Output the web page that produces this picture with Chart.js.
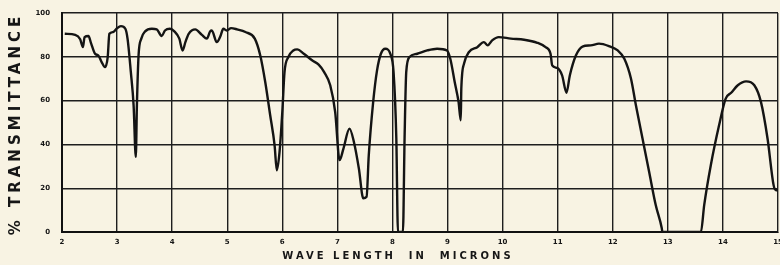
<!DOCTYPE html>
<html>
<head>
<meta charset="utf-8">
<script src="https://cdn.jsdelivr.net/npm/chart.js@4"></script>
<style>
  html, body { margin: 0; padding: 0; background: #f8f3e3; }
  #wrap { width: 780px; height: 265px; }
</style>
</head>
<body>
<div id="wrap"><canvas id="myChart" width="780" height="265"></canvas></div>
<script>
// wavelength in microns
var wavelength = [2.05, 2.24, 2.33, 2.38, 2.41, 2.48, 2.53, 2.60, 2.66, 2.72, 2.78, 2.83, 2.86, 2.93, 2.99,
    3.07, 3.15, 3.19, 3.25, 3.30, 3.34, 3.36, 3.39, 3.44, 3.51, 3.63, 3.72, 3.81, 3.87, 3.96,
    4.04, 4.13, 4.19, 4.24, 4.30, 4.42, 4.54, 4.63, 4.69, 4.72, 4.81, 4.87, 4.93, 4.99,
    5.07, 5.18, 5.33, 5.50, 5.60, 5.69, 5.78, 5.86, 5.90, 5.95,
    6.00, 6.04, 6.11, 6.20, 6.27, 6.39, 6.54, 6.66, 6.76, 6.87, 6.96,
    7.04, 7.11, 7.22, 7.30, 7.39, 7.47, 7.53, 7.57, 7.65, 7.72, 7.79, 7.87, 7.96,
    8.02, 8.07, 8.10, 8.19, 8.22, 8.25, 8.31, 8.45, 8.63, 8.81, 8.99,
    9.05, 9.13, 9.20, 9.24, 9.25, 9.30, 9.39, 9.54, 9.66, 9.73, 9.81, 9.93,
    10.15, 10.39, 10.63, 10.78, 10.87, 10.90, 10.99,
    11.08, 11.16, 11.22, 11.33, 11.45, 11.60, 11.75, 11.93,
    12.09, 12.21, 12.33, 12.42, 12.54, 12.66, 12.78, 12.89, 12.90,
    13.60, 13.66, 13.78, 13.93,
    14.05, 14.15, 14.27, 14.42, 14.57, 14.69, 14.81, 14.92, 14.96, 15.00];

// % transmittance at each wavelength
var transmittance = [90.5, 90, 88, 84.4, 89, 89.5, 86, 81.4, 80.6, 77.6, 75.3, 79.9, 90.5, 91.3, 92.8,
    94, 92.8, 88.3, 73, 57.9, 34.3, 57.9, 80.6, 88.3, 91.6, 92.8, 92.5, 89.5, 92, 92.8,
    91.6, 88.3, 82.9, 86.7, 90.5, 92.5, 90, 88.3, 91.6, 92, 86.7, 89, 92.8, 92,
    93.1, 92.5, 91.3, 88.3, 80.6, 68.5, 53.3, 39.6, 28.2, 36.6,
    54.8, 73, 79.9, 82.9, 83.4, 81.4, 78.4, 76.4, 73, 67, 54.8,
    32.8, 38.1, 47.2, 41.1, 29, 15.4, 16.1, 35.1, 59.4, 73.8, 81.4, 83.7, 81.4,
    73, 42.8, 0, 0, 42.8, 73, 79.9, 81.4, 82.9, 83.7, 82.9,
    79.1, 68.5, 59.4, 51, 65.5, 76.9, 82.2, 84.4, 86.7, 85.2, 87.5, 89,
    88.3, 87.8, 86.4, 84.4, 81.4, 76.1, 74.9,
    71.5, 63.6, 71.5, 80.6, 84.7, 85.2, 86, 84.9,
    82.9, 79.1, 70.1, 57.9, 42.7, 27.5, 12.3, 1.7, 0,
    0, 12.3, 30.5, 48.7,
    60.9, 63.6, 67, 68.8, 67, 59.4, 42.7, 21.4, 19.1, 19];

var xTicks = [2, 3, 4, 5, 6, 7, 8, 9, 10, 11, 12, 13, 14, 15];
var yTicks = [0, 20, 40, 60, 80, 100];

var xTitle = 'WAVE LENGTH  IN  MICRONS';
var yTitle = '% TRANSMITTANCE';

var points = [];
for (var i = 0; i < wavelength.length; i++) {
    points.push({x: wavelength[i], y: transmittance[i]});
}

// hand lettered titles with wide spacing
var titles = {
    id: 'titles',
    afterDraw: function(chart) {
        var c = chart.ctx;
        c.save();
        c.fillStyle = '#161616';
        c.textAlign = 'center';
        c.textBaseline = 'middle';
        c.font = 'bold 15px "DejaVu Sans"';
        c.letterSpacing = '4px';
        c.translate(16, 124);
        c.rotate(-Math.PI / 2);
        c.fillText(yTitle, 0, 0);
        c.restore();

        c.save();
        c.fillStyle = '#161616';
        c.textAlign = 'center';
        c.textBaseline = 'middle';
        c.font = 'bold 10px "DejaVu Sans"';
        c.letterSpacing = '3px';
        c.fillText(xTitle, 398, 256);
        c.restore();
    }
};

var ctx = document.getElementById('myChart').getContext('2d');
var myChart = new Chart(ctx, {
    type: 'line',
    data: {
        datasets: [{
            data: points,
            borderColor: '#141414',
            borderWidth: 2.4,
            pointRadius: 0,
            cubicInterpolationMode: 'monotone',
            fill: false
        }]
    },
    options: {
        responsive: false,
        animation: false,
        layout: {padding: {top: 13, right: 2, left: 0, bottom: 0}},
        plugins: {legend: {display: false}, tooltip: {enabled: false}},
        scales: {
            x: {
                type: 'linear',
                min: 2,
                max: 15,
                afterBuildTicks: function(scale) {
                    scale.ticks = xTicks.map(function(v) { return {value: v}; });
                },
                afterFit: function(scale) {
                    scale.height = 33;
                    scale.paddingLeft = 0;
                    scale.paddingRight = 0;
                },
                grid: {color: '#1e1e1e', lineWidth: 1.4, tickLength: 0},
                border: {color: '#111', width: 2},
                ticks: {
                    color: '#151515',
                    font: {family: 'DejaVu Sans', size: 7, weight: 'bold'},
                    padding: 6,
                    maxRotation: 0,
                    autoSkip: false
                }
            },
            y: {
                min: 0,
                max: 100,
                afterBuildTicks: function(scale) {
                    scale.ticks = yTicks.map(function(v) { return {value: v}; });
                },
                afterFit: function(scale) {
                    scale.width = 62;
                    scale.paddingTop = 0;
                    scale.paddingBottom = 0;
                },
                grid: {color: '#1e1e1e', lineWidth: 1.4, tickLength: 0},
                border: {color: '#111', width: 2},
                ticks: {
                    color: '#151515',
                    font: {family: 'DejaVu Sans', size: 7, weight: 'bold'},
                    padding: 12
                }
            }
        }
    },
    plugins: [titles]
});
</script>
</body>
</html>
